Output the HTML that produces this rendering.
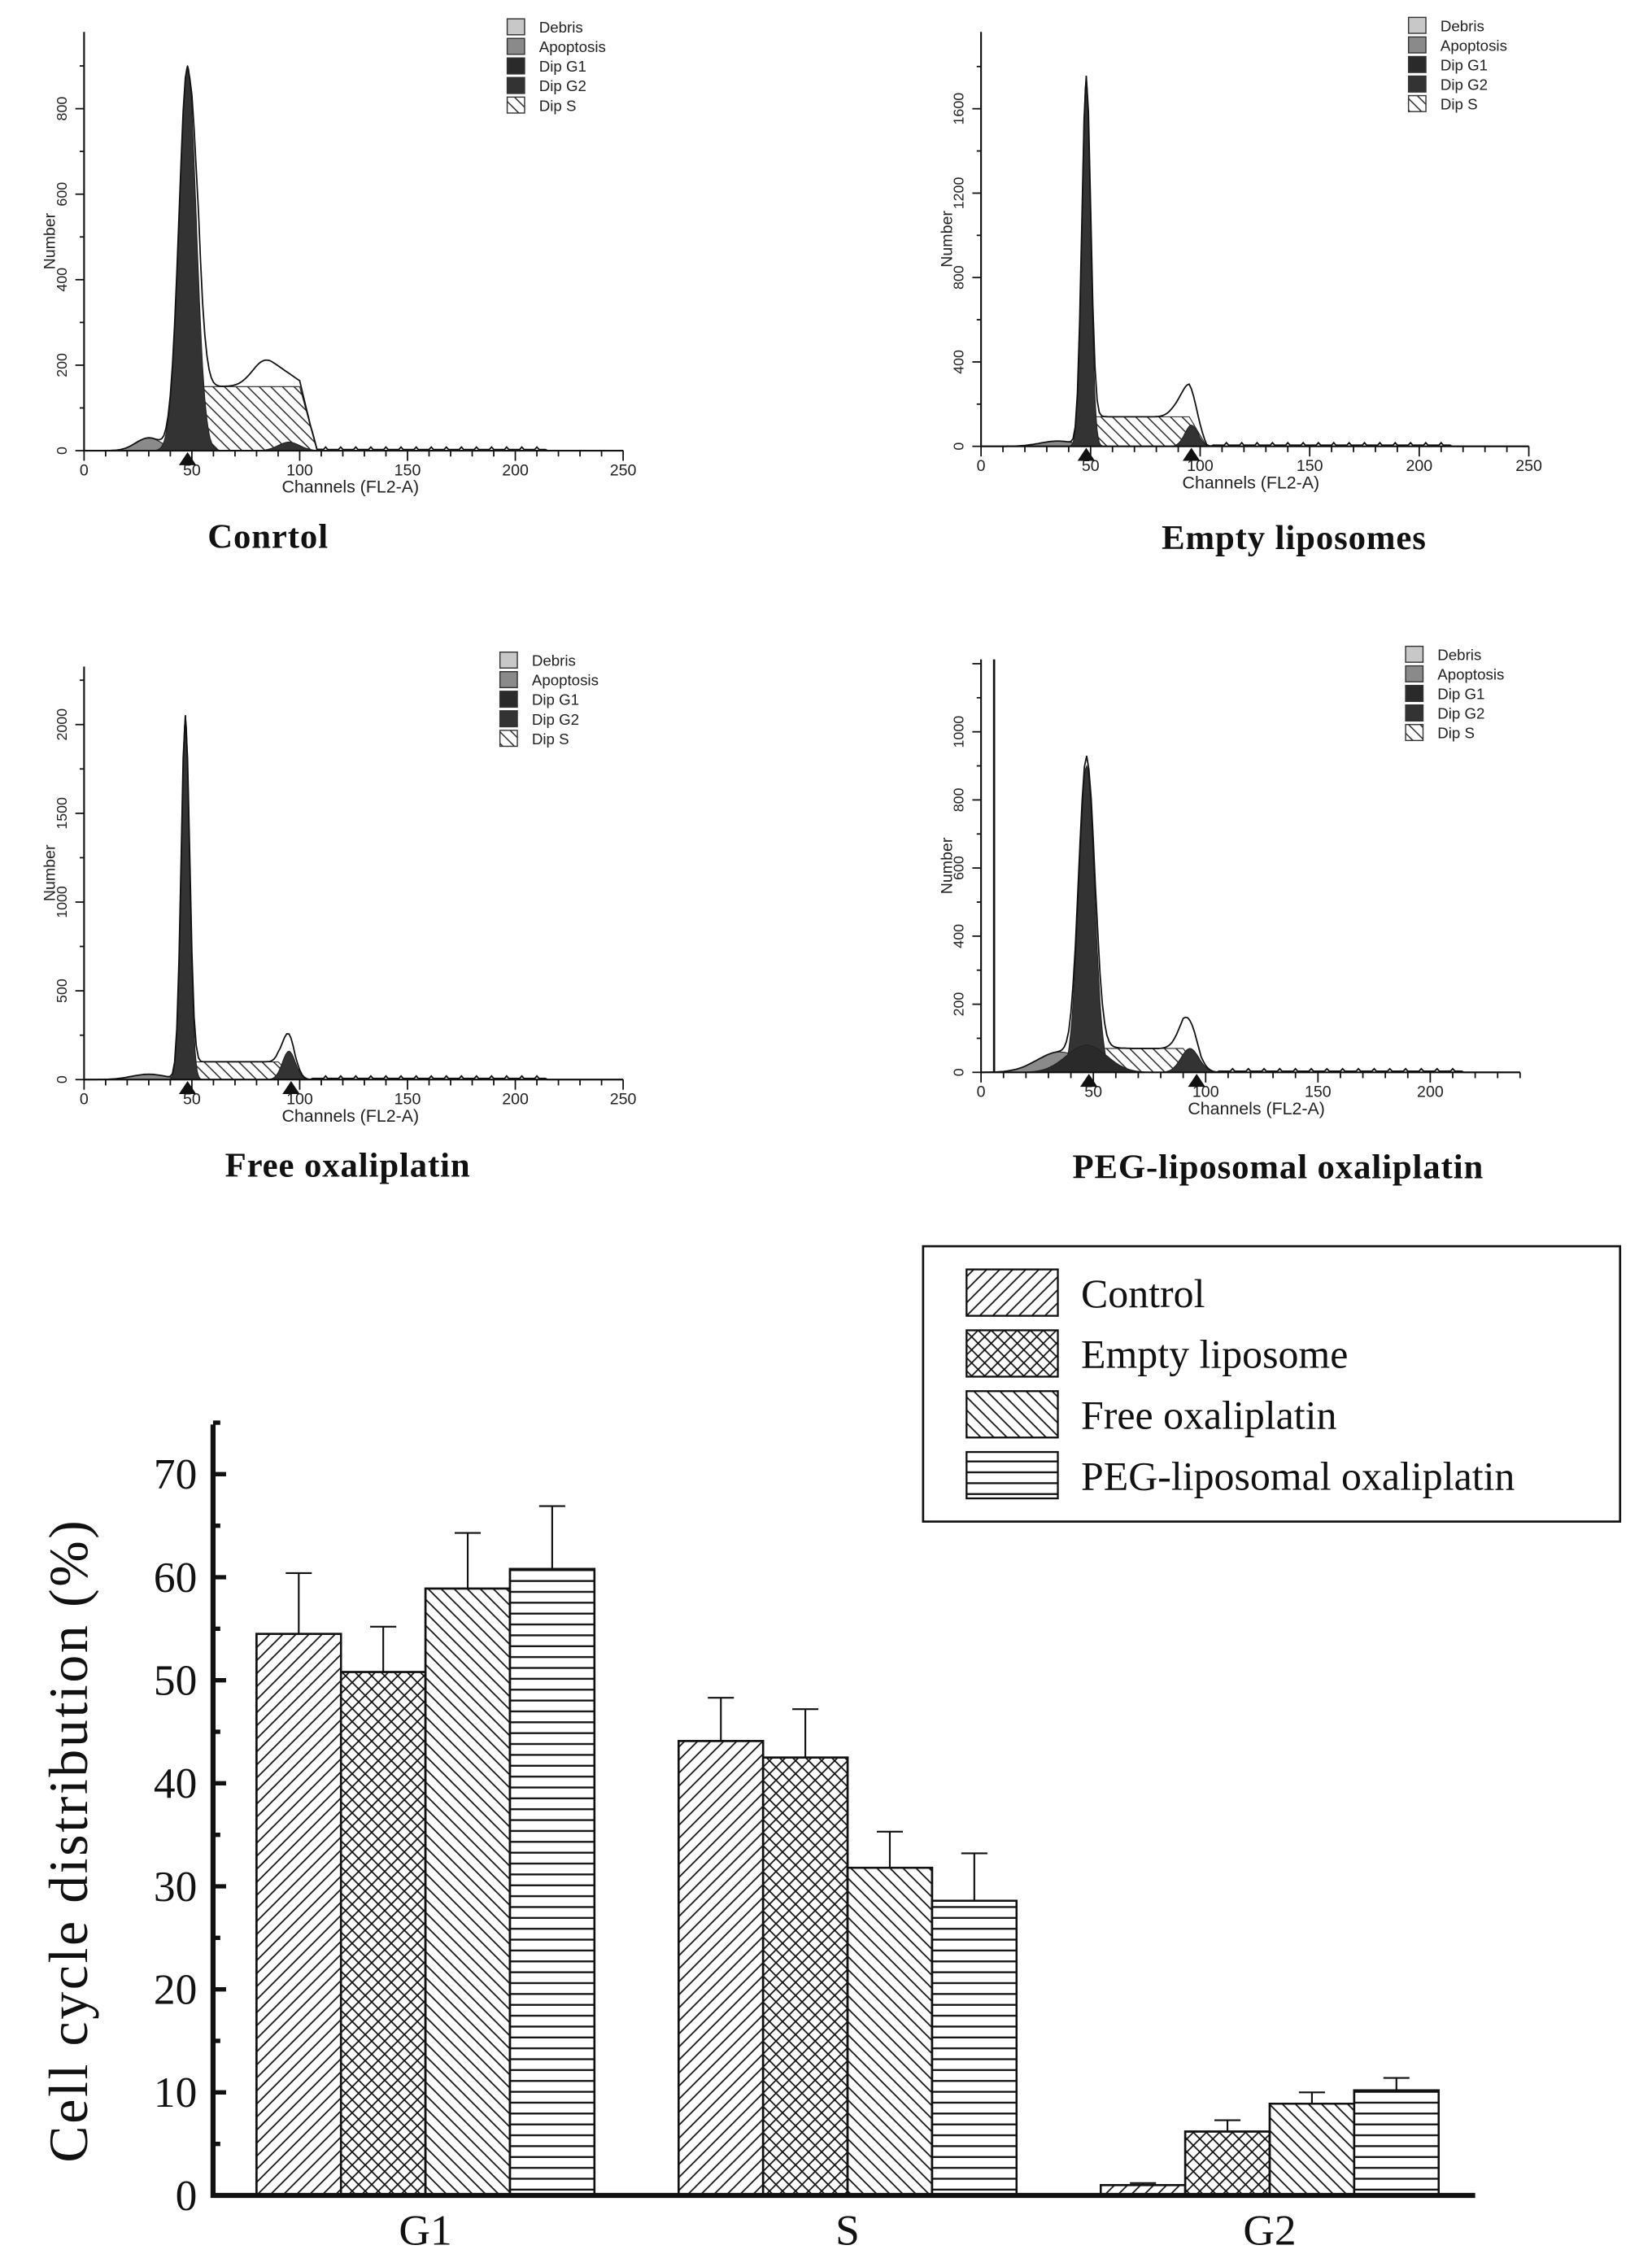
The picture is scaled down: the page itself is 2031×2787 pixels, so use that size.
<!DOCTYPE html>
<html><head><meta charset="utf-8"><style>
html,body{margin:0;padding:0;background:#fff}
svg{display:block}
.s{font-family:"Liberation Sans",sans-serif}
.r{font-family:"Liberation Serif",serif}
</style></head><body>
<svg id="root" width="2031" height="2787" viewBox="0 0 1140 1564.4" xmlns="http://www.w3.org/2000/svg">
<defs>
<pattern id="pFwd" width="9" height="9" patternUnits="userSpaceOnUse"><path d="M-1,10 L10,-1 M-3,3 L3,-3 M6,12 L12,6" stroke="#111" stroke-width="1"/></pattern>
<pattern id="pBack" width="9" height="9" patternUnits="userSpaceOnUse"><path d="M-1,-1 L10,10 M-3,6 L3,12 M6,-3 L12,3" stroke="#111" stroke-width="1"/></pattern>
<pattern id="pCross" width="9" height="9" patternUnits="userSpaceOnUse"><path d="M-1,10 L10,-1 M-3,3 L3,-3 M6,12 L12,6 M-1,-1 L10,10 M-3,6 L3,12 M6,-3 L12,3" stroke="#111" stroke-width="1"/></pattern>
<pattern id="pHor" width="8" height="7.5" patternUnits="userSpaceOnUse"><path d="M0,3.5 L8,3.5" stroke="#111" stroke-width="1.3"/></pattern>
<pattern id="pHist" width="8" height="8" patternUnits="userSpaceOnUse"><path d="M-1,-1 L9,9 M-3,5 L3,11 M5,-3 L11,3" stroke="#222" stroke-width="0.8"/></pattern>
</defs>
<g id="hist"></g>
<g id="bars"></g>
</svg>
<script>
// ---------- Histogram data ----------
const panelTitles = ["Conrtol","Empty liposomes","Free oxaliplatin","PEG-liposomal oxaliplatin"];
const yTickLabels = [[0,200,400,600,800],[0,400,800,1200,1600],[0,500,1000,1500,2000],[0,200,400,600,800,1000]];
const g1Peaks = [[48,4,900],[48,2,1750],[47,2,2050],[47,3.5,900]];
const g2Peaks = [[95,5,20],[96,3,100],[95,3,160],[93,4,70]];
const sPhase = [[53,100,150],[52,95,140],[52,90,100],[52,90,70]];
const apoptosis = [[30,6,30],[35,8,25],[30,8,30],[35,10,60]];
const extraBumps = [[84,6,60],[92,4,80],[95,3,60],[92,4,40]];
const legendItems = ["Debris","Apoptosis","Dip G1","Dip G2","Dip S"];
// layout (not data)
const layout = [
 {x0:58,kx:1.488,y0:311,ky:0.295,top:22,xmax:250,xticks:[0,50,100,150,200,250],lx:350,ly:13,tx:185,ty:378},
 {x0:677,kx:1.512,y0:308,ky:0.1456,top:22,xmax:250,xticks:[0,50,100,150,200,250],lx:972,ly:12,tx:893,ty:379},
 {x0:58,kx:1.488,y0:745,ky:0.1225,top:460,xmax:250,xticks:[0,50,100,150,200,250],lx:345,ly:450,tx:240,ty:812},
 {x0:677,kx:1.55,y0:740,ky:0.235,top:455,xmax:240,xticks:[0,50,100,150,200],lx:970,ly:446,tx:882,ty:813}
];
const NS="http://www.w3.org/2000/svg";
function mk(tag,attrs,parent){const e=document.createElementNS(NS,tag);for(const k in attrs)e.setAttribute(k,attrs[k]);parent.appendChild(e);return e;}
function gauss(x,p){return p[2]*Math.exp(-0.5*Math.pow((x-p[0])/p[1],2));}
function sph(x,p){ if(x<p[0]-4||x>p[1]+8) return 0; let v=p[2]; if(x<p[0]) v*= (x-(p[0]-4))/4; if(x>p[1]) v*=1-(x-p[1])/8; return v;}
const hist=document.getElementById('hist');
layout.forEach((L,i)=>{
  const g=mk('g',{},hist);
  
  
  const X=c=>L.x0+c*L.kx, Y=v=>L.y0-v*L.ky;
  function area(fn,fill,name){
    let d='M'+X(0)+','+L.y0;
    for(let c=0;c<=L.xmax;c+=0.5){d+=' L'+X(c).toFixed(1)+','+Y(fn(c)).toFixed(1);}
    d+=' L'+X(L.xmax)+','+L.y0+'Z';
    const p=mk('path',{d:d,fill:fill,stroke:'#222','stroke-width':0.6},g);
    
    
  }
  area(c=>gauss(c,apoptosis[i]),'#8a8a8a','apoptosis-area');
  area(c=>sph(c,sPhase[i]),'url(#pHist)','dip-s-area');
  area(c=>gauss(c,g2Peaks[i]),'#333','dip-g2-area');
  area(c=>gauss(c,g1Peaks[i]),'#333','dip-g1-area');
  if(i===3) area(c=>gauss(c,[47,9,80]),'#2a2a2a','dip-g1-broad');
  let d='';
  for(let c=0;c<=L.xmax;c+=1){
    let v=gauss(c,g1Peaks[i])+gauss(c,g2Peaks[i])+sph(c,sPhase[i])+gauss(c,apoptosis[i])+gauss(c,extraBumps[i]);
    if(c>105&&c<215) v+= (c%7===0?2.5:0.8)/L.ky;
    d+=(c===0?'M':' L')+X(c).toFixed(1)+','+Y(v).toFixed(1);
  }
  const ol=mk('path',{d:d,fill:'none',stroke:'#111','stroke-width':1},g);
  
  
  if(i===3){const sp=mk('line',{x1:686,y1:L.y0,x2:686,y2:L.top,stroke:'#111','stroke-width':1.5},g);
    }
  const ax=mk('path',{d:`M${L.x0},${L.top} L${L.x0},${L.y0} L${X(L.xmax)},${L.y0}`,fill:'none',stroke:'#111','stroke-width':1.2},g);
  
  for(let c=0;c<=L.xmax;c+=10){mk('line',{x1:X(c),y1:L.y0,x2:X(c),y2:L.y0+(c%50?4:7),stroke:'#111','stroke-width':1},g);}
  L.xticks.forEach(c=>{const t=mk('text',{x:X(c),y:L.y0+17,'text-anchor':'middle','font-size':11,class:'s',fill:'#222'},g);t.textContent=c;
    });
  const yt=yTickLabels[i], step=yt[1]-yt[0];
  for(let v=0;Y(v)>=L.top;v+=step/2){mk('line',{x1:L.x0,y1:Y(v),x2:L.x0-(v%step?3:6),y2:Y(v),stroke:'#111','stroke-width':1},g);}
  yt.forEach(v=>{const t=mk('text',{x:0,y:0,transform:`translate(${L.x0-12},${Y(v)}) rotate(-90)`,'text-anchor':'middle','font-size':10,class:'s',fill:'#222'},g);t.textContent=v;
    });
  mk('path',{d:`M${X(48)-6},${L.y0+10} L${X(48)},${L.y0+1} L${X(48)+6},${L.y0+10}Z`,fill:'#111'},g);
  if(i>=1){mk('path',{d:`M${X(96)-6},${L.y0+10} L${X(96)},${L.y0+1} L${X(96)+6},${L.y0+10}Z`,fill:'#111'},g);}
  const yl=mk('text',{transform:`translate(${L.x0-20},${(L.top+L.y0)/2}) rotate(-90)`,'text-anchor':'middle','font-size':11,class:'s',fill:'#222'},g);yl.textContent='Number';
  
  const xl=mk('text',{x:X(100)+35,y:L.y0+29,'text-anchor':'middle','font-size':12,class:'s',fill:'#222'},g);xl.textContent='Channels (FL2-A)';
  
  const fills=['#c8c8c8','#8a8a8a','#2a2a2a','#333','url(#pHist)'];
  legendItems.forEach((s,k)=>{
    const r=mk('rect',{x:L.lx,y:L.ly+k*13.5,width:12,height:11,fill:fills[k],stroke:'#333','stroke-width':0.8},g);
    
    const t=mk('text',{x:L.lx+22,y:L.ly+k*13.5+9.5,'font-size':10.5,class:'s',fill:'#222'},g);t.textContent=s;
    
  });
  const tt=mk('text',{x:L.tx,y:L.ty,'text-anchor':'middle','font-size':24,class:'r','font-weight':'bold','letter-spacing':'0.5',fill:'#111'},g);tt.textContent=panelTitles[i];
  
});

// ---------- Bar chart data ----------
const phases = ["G1","S","G2"];
const seriesNames = ["Control","Empty liposome","Free oxaliplatin","PEG-liposomal oxaliplatin"];
const controlVals = [54.5,44.1,1.0];
const emptyVals = [50.8,42.5,6.2];
const freeVals = [58.9,31.8,8.9];
const pegVals = [60.8,28.6,10.2];
const controlErr = [5.9,4.2,0.2];
const emptyErr = [4.4,4.7,1.1];
const freeErr = [5.4,3.5,1.1];
const pegErr = [6.1,4.6,1.2];
const yTicks = [0,10,20,30,40,50,60,70];

const vals=[controlVals,emptyVals,freeVals,pegVals], errs=[controlErr,emptyErr,freeErr,pegErr];
const pats=['url(#pFwd)','url(#pCross)','url(#pBack)','url(#pHor)'];
const B={x0:147,y0:1515,ky:7.11,top:983,xEnd:1018,g0:177,gStep:291.3,bw:58.3};
const yv=v=>B.y0-v*B.ky;
const bars=document.getElementById('bars');
phases.forEach((ph,pi)=>{
  vals.forEach((arr,si)=>{
    const x=B.g0+pi*B.gStep+si*B.bw, v=arr[pi], e=errs[si][pi];
    const ex=x+B.bw/2;
    const el=mk('path',{d:`M${ex},${yv(v)} L${ex},${yv(v+e)} M${ex-9},${yv(v+e)} L${ex+9},${yv(v+e)}`,stroke:'#111','stroke-width':1.2,fill:'none'},bars);
    
    const r=mk('rect',{x:x,y:yv(v),width:B.bw,height:v*B.ky,fill:'#fff',stroke:'#111','stroke-width':1.4},bars);
    
    mk('rect',{x:x,y:yv(v),width:B.bw,height:v*B.ky,fill:pats[si],stroke:'#111','stroke-width':1.4},bars);
  });
  const t=mk('text',{x:B.g0+pi*B.gStep+2*B.bw,y:1549,'text-anchor':'middle','font-size':30,class:'r',fill:'#111'},bars);t.textContent=ph;
  
});
const bax=mk('path',{d:`M${B.x0},${B.top} L${B.x0},${B.y0} L${B.xEnd},${B.y0}`,fill:'none',stroke:'#111','stroke-width':3.5},bars);

for(let v=0;v<=75;v+=5){mk('line',{x1:B.x0,y1:yv(v),x2:B.x0+(v%10?5:9),y2:yv(v),stroke:'#111','stroke-width':3},bars);}
yTicks.forEach(v=>{const t=mk('text',{x:136,y:yv(v)+10,'text-anchor':'end','font-size':30,class:'r',fill:'#111'},bars);t.textContent=v;
  });
const yt=mk('text',{transform:`translate(60,1270) rotate(-90)`,'text-anchor':'middle','font-size':38,class:'r','letter-spacing':'1.5',fill:'#111'},bars);yt.textContent='Cell cycle distribution (%)';

const lb=mk('rect',{x:637,y:860,width:481,height:190,fill:'#fff',stroke:'#111','stroke-width':1.5},bars);

seriesNames.forEach((s,k)=>{
  const y=876+k*42;
  const r=mk('rect',{x:667,y:y,width:63,height:32,fill:pats[k],stroke:'#111','stroke-width':1.3},bars);
  
  const t=mk('text',{x:746,y:y+26,'font-size':28,class:'r',fill:'#111'},bars);t.textContent=s;
  
});
</script>
</body></html>
